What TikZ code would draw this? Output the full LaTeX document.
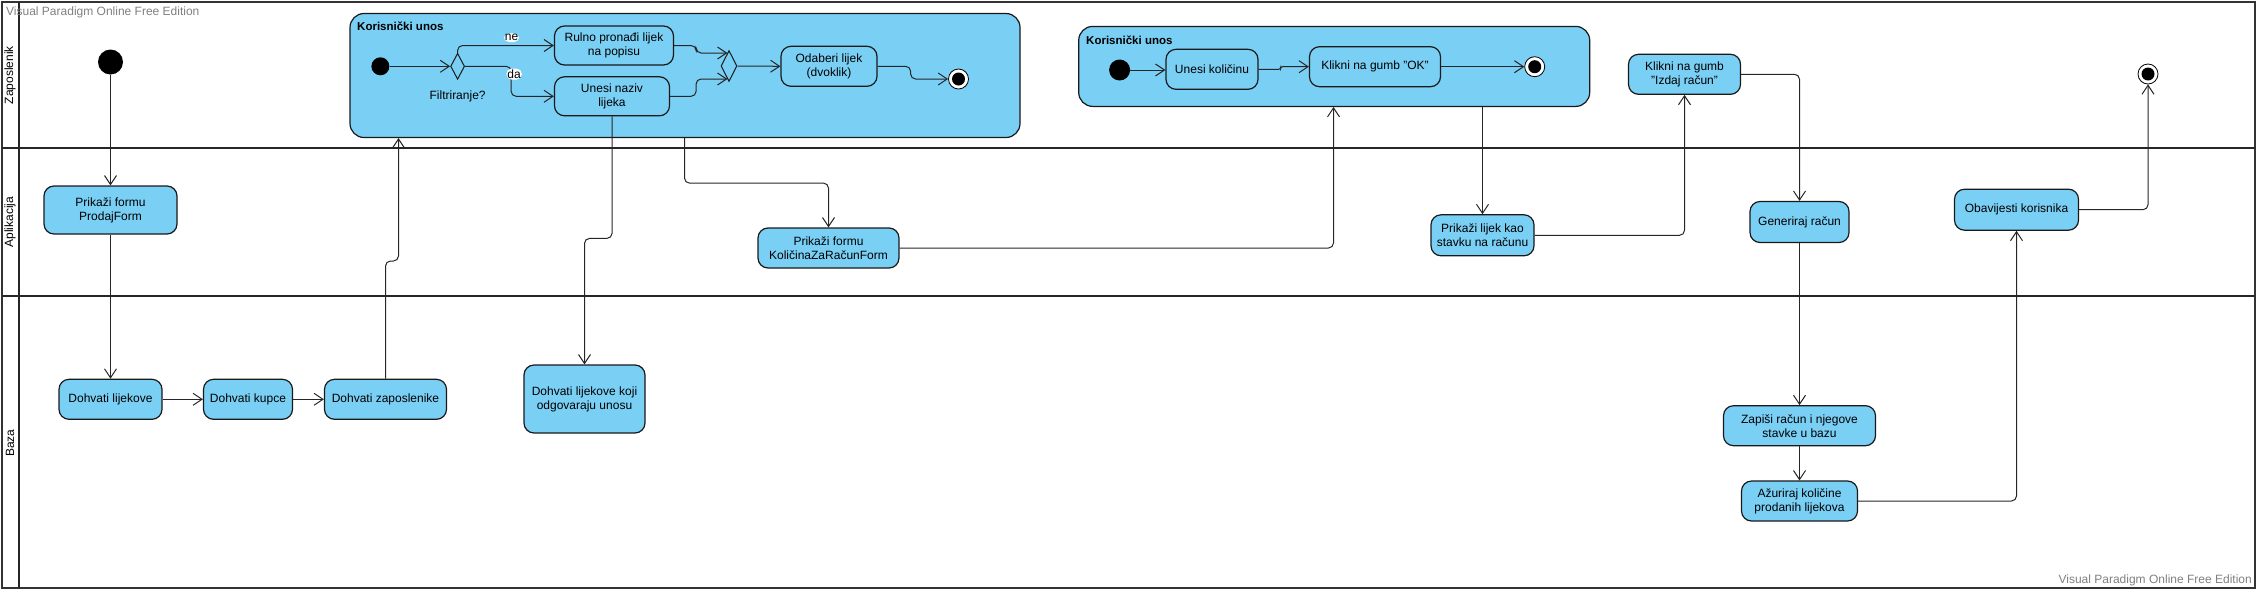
\documentclass[tikz,border=0pt]{standalone}
\usepackage{fontspec}
\setmainfont{Liberation Sans}
\usetikzlibrary{shapes,decorations}
\usetikzlibrary{arrows.meta, positioning}
\definecolor{vpblue}{RGB}{122,207,245}

\begin{document}
\begin{tikzpicture}[x=1pt, y=-1pt, font=\fontsize{12}{14}\selectfont,
  act/.style={draw=black!90, fill=vpblue, rounded corners=10pt, line width=1.2pt, align=center, inner sep=0pt, minimum height=40pt},
  grp/.style={draw=black!90, fill=vpblue, rounded corners=14pt, line width=1.2pt},
  ttl/.style={font=\fontsize{11.5}{14}\selectfont\bfseries, anchor=west, inner sep=0pt},
  start/.style={circle, fill=black, inner sep=0pt},
  fin/.style={circle, draw=black, fill=white, line width=0.8pt, minimum size=20pt, inner sep=0pt,
    path picture={\fill[black] (path picture bounding box.center) circle (6.5pt);}},
  choice/.style={diamond, draw=black!90, fill=vpblue, line width=1pt, inner sep=0pt},
  flow/.style={draw=black!85, line width=1pt, rounded corners=5pt, -{Straight Barb[length=9pt, width=12pt]}},
  lbl/.style={fill=white, inner sep=1pt},
  lane/.style={draw=black!85, line width=2.5pt},
  wm/.style={text=black!50, inner sep=0pt}]
  \useasboundingbox (0,0) rectangle (2257,590);

  % swimlanes
  \draw[line width=2pt, black!80] (2,2) rectangle (2255,588);
  \draw[lane] (19,2) -- (19,588);
  \draw[lane] (2,148) -- (2255,148);
  \draw[lane] (2,296) -- (2255,296);
  \node[rotate=90] (lz) at (10,75) {Zaposlenik};
  \node[rotate=90] (la) at (10,222) {Aplikacija};
  \node[rotate=90] (lb) at (10,443) {Baza};
  \node[wm, anchor=west] (wm1) at (6,12) {Visual Paradigm Online Free Edition};
  \node[wm, anchor=east] (wm2) at (2252,580) {Visual Paradigm Online Free Edition};

  % Korisnicki unos 1
  \node[grp, minimum width=670pt, minimum height=124pt] (u1) at (685,75.5) {};
  \node[ttl] (t1) at (357,26) {Korisnički unos};
  \node[start, minimum size=18pt] (s2) at (380.4,66.3) {};
  \node[choice, minimum width=14pt, minimum height=26pt] (d1) at (457.6,66.3) {};
  \node[below=7pt of d1] (fl) {Filtriranje?};
  \node[act, minimum width=119pt, minimum height=39pt] (rp) at (614,45.5) {Rulno pronađi lijek\\na popisu};
  \node[act, minimum width=115pt, minimum height=39pt] (un) at (612,96.3) {Unesi naziv\\lijeka};
  \node[choice, minimum width=16pt, minimum height=31pt] (d2) at (729,66) {};
  \node[act, minimum width=96pt] (ol) at (829,66.3) {Odaberi lijek\\(dvoklik)};
  \node[fin] (f1) at (958.5,79) {};

  \draw[flow] (s2) -- (d1.west);
  \draw[flow] (d1.north) |- node[lbl, pos=0.78, above=3pt]{ne} (rp.west);
  \draw[flow] (d1.east) -- ++(46,0) |- node[lbl, pos=0.13, xshift=3pt]{da} (un.west);
  \draw[flow] (rp.east) -- ++(22,0) |- (d2.97);
  \draw[flow] (un.east) -- ++(26,0) |- (d2.263);
  \draw[flow] (d2.east) -- (ol.west);
  \draw[flow] (ol.east) -- ++(33,0) |- (f1.west);

  % Korisnicki unos 2
  \node[grp, minimum width=511pt, minimum height=80pt] (u2) at (1334.2,66.4) {};
  \node[ttl] (t2) at (1086,40) {Korisnički unos};
  \node[start, minimum size=21pt] (s3) at (1119.6,70) {};
  \node[act, minimum width=92pt] (uk) at (1212,69.3) {Unesi količinu};
  \node[act, minimum width=131pt] (ok) at (1375,66.7) {Klikni na gumb "OK"};
  \node[fin] (f2) at (1534.7,66.7) {};

  \draw[flow] (s3) -- (uk.west |- s3);
  \draw[flow, rounded corners=2pt] (uk.east) -- ++(22,0) |- (ok.west);
  \draw[flow] (ok.east) -- (f2.west);

  % Zaposlenik
  \node[start, minimum size=25pt] (s1) at (110.5,62) {};
  \node[act, minimum width=112pt] (ki) at (1684.5,74.3) {Klikni na gumb\\"Izdaj račun"};
  \node[fin] (f3) at (2148,74) {};

  % Aplikacija
  \node[act, minimum width=133pt, minimum height=48pt] (pf) at (110.5,210) {Prikaži formu\\ProdajForm};
  \node[act, minimum width=141pt] (kf) at (828.5,248) {Prikaži formu\\KoličinaZaRačunForm};
  \node[act, minimum width=103pt, minimum height=41pt] (pl) at (1482.5,235.3) {Prikaži lijek kao\\stavku na računu};
  \node[act, minimum width=99pt, minimum height=41pt] (gr) at (1799.5,222) {Generiraj račun};
  \node[act, minimum width=124pt, minimum height=41pt] (ob) at (2016.5,209.7) {Obavijesti korisnika};

  % Baza
  \node[act, minimum width=103pt] (dl) at (110.5,399.3) {Dohvati lijekove};
  \node[act, minimum width=89pt] (dk) at (248,399.3) {Dohvati kupce};
  \node[act, minimum width=122pt] (dz) at (385.5,399.3) {Dohvati zaposlenike};
  \node[act, minimum width=121pt, minimum height=68pt] (dlk) at (584.5,399) {Dohvati lijekove koji\\odgovaraju unosu};
  \node[act, minimum width=152pt] (zr) at (1799.5,425.7) {Zapiši račun i njegove\\stavke u bazu};
  \node[act, minimum width=116pt] (az) at (1799.5,501) {Ažuriraj količine\\prodanih lijekova};

  \draw[flow] (s1) -- (pf);
  \draw[flow] (pf) -- (dl);
  \draw[flow] (dl) -- (dk);
  \draw[flow] (dk) -- (dz);
  \draw[flow] (dz.north) |- (398.5,261) -- (398.5,0 |- u1.south);
  \draw[flow] (un.south) -- ++(0,122) -| (dlk.north);
  \draw[flow] (684.5,0 |- u1.south) -- ++(0,45) -| (kf.north);
  \draw[flow] (kf.east) -| (1333.5,0 |- u2.south);
  \draw[flow] (1482.5,0 |- u2.south) -- (pl.north);
  \draw[flow] (pl.east) -| (ki.south);
  \draw[flow] (ki.east) -| (gr.north);
  \draw[flow] (gr) -- (zr);
  \draw[flow] (zr) -- (az);
  \draw[flow] (az.east) -| (ob.south);
  \draw[flow] (ob.east) -| (f3.south);
\end{tikzpicture}
\end{document}
